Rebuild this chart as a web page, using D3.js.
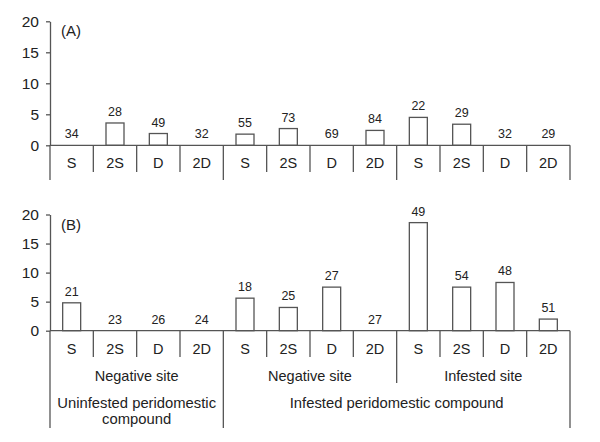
<!DOCTYPE html>
<html>
<head>
<meta charset="utf-8">
<script src="https://cdn.jsdelivr.net/npm/d3@7"></script>
<style>
  body { margin: 0; background: #fff; }
  text { font-family: Arial, "Liberation Sans", sans-serif; fill: #222; }
</style>
</head>
<body>
<script>
// sub-categories along the x axis (repeated for each site group)
const subCats = ['S', '2S', 'D', '2D', 'S', '2S', 'D', '2D', 'S', '2S', 'D', '2D'];
const valuesA = [0, 3.6, 1.9, 0, 1.8, 2.7, 0, 2.4, 4.5, 3.4, 0, 0];
const countsA = [34, 28, 49, 32, 55, 73, 69, 84, 22, 29, 32, 29];
const valuesB = [4.8, 0, 0, 0, 5.6, 4.0, 7.5, 0, 18.6, 7.5, 8.3, 2.0];
const countsB = [21, 23, 26, 24, 18, 25, 27, 27, 49, 54, 48, 51];
const siteLabels = ['Negative site', 'Negative site', 'Infested site'];
const compoundLabels = [['Uninfested peridomestic', 'compound'], ['Infested peridomestic compound']];
const yTicks = [0, 5, 10, 15, 20];

const W = 600, H = 442;
const lineCol = '#555';

const svg = d3.select('body').append('svg')
    .attr('width', W)
    .attr('height', H);

const x = d3.scaleBand()
    .domain(d3.range(subCats.length))
    .range([50, 570])
    .padding(0);

const bw = x.bandwidth();
const barW = 18;

function panel(values, counts, top, bottom, label, dividerEnd) {
    const y = d3.scaleLinear().domain([0, 20]).range([bottom, top]);
    const g = svg.append('g');

    // y axis
    const ax = g.append('g')
        .attr('transform', 'translate(50,0)')
        .call(d3.axisLeft(y).tickValues(yTicks).tickSize(4).tickSizeOuter(0).tickPadding(7));
    ax.select('.domain').attr('stroke', lineCol).attr('stroke-width', 1.3);
    ax.selectAll('.tick line').attr('stroke', lineCol).attr('stroke-width', 1.3);
    ax.selectAll('.tick text')
        .attr('font-size', 15.5)
        .attr('font-family', 'Arial, "Liberation Sans", sans-serif')
        .attr('fill', '#222');

    // bars
    const idx = d3.range(values.length);
    g.selectAll('rect.bar')
        .data(idx.filter(i => values[i] > 0))
        .enter()
        .append('rect')
        .attr('class', 'bar')
        .attr('x', i => x(i) + (bw - barW) / 2)
        .attr('y', i => y(values[i]))
        .attr('width', barW)
        .attr('height', i => y(0) - y(values[i]))
        .attr('fill', '#fff')
        .attr('stroke', lineCol)
        .attr('stroke-width', 1.3);

    // counts above bars
    g.selectAll('text.count')
        .data(idx)
        .enter()
        .append('text')
        .attr('class', 'count')
        .attr('x', i => x(i) + bw / 2)
        .attr('y', i => y(values[i]) - 7)
        .attr('text-anchor', 'middle')
        .attr('font-size', 12.5)
        .text(i => counts[i]);

    // x axis line
    g.append('line')
        .attr('x1', 50).attr('x2', 570)
        .attr('y1', y(0)).attr('y2', y(0))
        .attr('stroke', lineCol).attr('stroke-width', 1.3);

    // dividers between categories
    g.selectAll('line.div')
        .data(d3.range(subCats.length + 1))
        .enter()
        .append('line')
        .attr('class', 'div')
        .attr('x1', i => i < subCats.length ? x(i) : x.range()[1])
        .attr('x2', i => i < subCats.length ? x(i) : x.range()[1])
        .attr('y1', y(0))
        .attr('y2', i => dividerEnd(i))
        .attr('stroke', lineCol).attr('stroke-width', 1.3);

    // category labels
    g.selectAll('text.cat')
        .data(idx)
        .enter()
        .append('text')
        .attr('class', 'cat')
        .attr('x', i => x(i) + bw / 2)
        .attr('y', y(0) + 23)
        .attr('text-anchor', 'middle')
        .attr('font-size', 14.5)
        .text(i => subCats[i]);

    g.append('text')
        .attr('x', 61)
        .attr('y', top + 15)
        .attr('font-size', 15)
        .text(label);

    return y;
}

panel(valuesA, countsA, 21.3, 145.3, '(A)', i => (i % 4 === 0 ? 180 : 172));
panel(valuesB, countsB, 214.5, 330.7, '(B)', i => {
    if (i === 0 || i === 4 || i === 12) return 428;
    if (i === 8) return 383;
    return 357;
});

// site labels
svg.selectAll('text.site')
    .data(siteLabels)
    .enter()
    .append('text')
    .attr('class', 'site')
    .attr('x', (d, k) => (x(k * 4) + (k * 4 + 4 < subCats.length ? x(k * 4 + 4) : 570)) / 2)
    .attr('y', 381)
    .attr('text-anchor', 'middle')
    .attr('font-size', 14.5)
    .text(d => d);

// compound labels
const compoundSpans = [[0, 4], [4, 12]];
compoundLabels.forEach((lines, k) => {
    const [a, b] = compoundSpans[k];
    const cx = (x(a) + (b < subCats.length ? x(b) : 570)) / 2;
    const t = svg.append('text')
        .attr('x', cx)
        .attr('y', 407.5)
        .attr('text-anchor', 'middle')
        .attr('font-size', 14.8);
    lines.forEach((ln, j) => {
        t.append('tspan')
            .attr('x', cx)
            .attr('dy', j === 0 ? 0 : 16.6)
            .text(ln);
    });
});
</script>
</body>
</html>
